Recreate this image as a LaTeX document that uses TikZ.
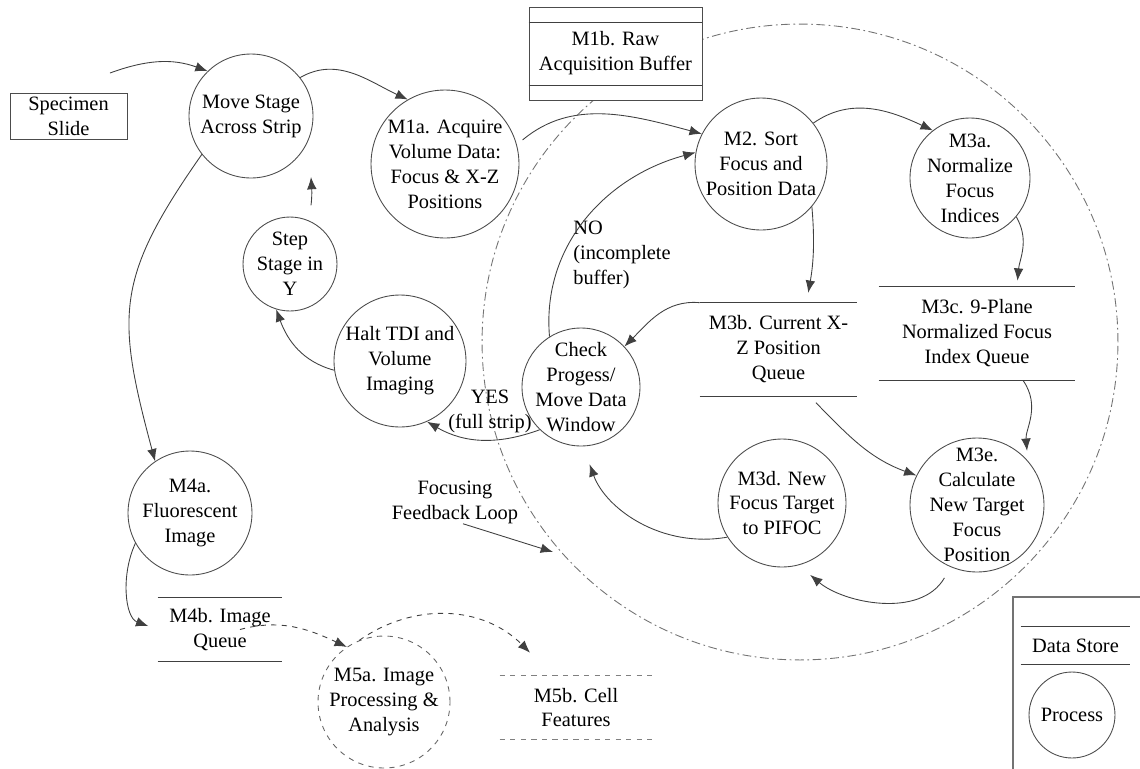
\documentclass[tikz,border=0pt]{standalone}
\usepackage{fontspec}
\setmainfont{Liberation Serif}
\usepackage{tikz}
\usetikzlibrary{arrows.meta}
\tikzset{
proc/.style={circle, draw=black!70, line width=0.5pt, inner sep=0pt, minimum size=#1},
box/.style={draw=black!70, line width=0.5pt, align=center, inner sep=0pt},
store/.style 2 args={inner sep=0pt, align=center, minimum width=#1, minimum height=#2},
storeline/.style={draw=black!75, line width=0.8pt},
txt/.style={align=center, inner sep=0pt},
flow/.style={draw=black!75, line width=0.5pt, -{Latex[length=7pt,width=5.5pt]}},
loopline/.style={draw=black!55, line width=0.5pt, dash pattern=on 5pt off 2pt on 1pt off 2pt}
}

\begin{document}
\begin{tikzpicture}[x=0.02cm, y=-0.02cm,
every node/.style={font=\fontsize{11.6}{14.2}\selectfont},
every label/.style={align=center}]
\useasboundingbox (0,0) rectangle (1140,768);
\clip (0,0) rectangle (1140,768);

%focusing feedback loop (drawn first, the buffer box covers it)
\coordinate (lc) at (800,342);
\draw[loopline] (lc) circle [radius=6.36cm];

%processes
\node[proc=2.48cm, label={center:Move Stage\\Across Strip}] (mv) at (251,116) {};
\node[proc=2.96cm, label={center:M1a. Acquire\\Volume Data:\\Focus \& X-Z\\Positions}] (m1a) at (445,164) {};
\node[proc=2.64cm, label={center:M2. Sort\\Focus and\\Position Data}] (m2) at (761,164) {};
\node[proc=2.4cm, label={center:M3a.\\Normalize\\Focus\\Indices}] (m3a) at (970,178) {};
\node[proc=1.88cm, label={center:Step\\Stage in\\Y}] (step) at (290,264) {};
\node[proc=2.64cm, label={center:Halt TDI and\\Volume\\Imaging}] (halt) at (400,361) {};
\node[proc=2.36cm, label={center:Check\\Progess/\\Move Data\\Window}] (chk) at (581,387) {};
\node[proc=2.56cm, label={center:M3d. New\\Focus Target\\to PIFOC}] (m3d) at (782,503) {};
\node[proc=2.68cm, label={center:M3e.\\Calculate\\New Target\\Focus\\Position}] (m3e) at (977,505) {};
\node[proc=2.48cm, label={center:M4a.\\Fluorescent\\Image}] (m4a) at (190,513) {};
\node[proc=2.64cm, dashed, draw=black!60, label={center:M5a. Image\\Processing \&\\Analysis}] (m5a) at (384,702) {};

%external entity and buffer
\node[box, minimum width=2.34cm, minimum height=0.92cm] (slide) at (68.5,116) {Specimen\\Slide};
\node[box, fill=white, minimum width=3.46cm, minimum height=1.86cm] (m1b) at (615.5,53.5) {M1b. Raw\\Acquisition Buffer};
\draw[storeline] ([yshift=-0.32cm]m1b.north west) -- ([yshift=-0.32cm]m1b.north east)
	([yshift=0.3cm]m1b.south west) -- ([yshift=0.3cm]m1b.south east);

%data stores
\node[store={3.14cm}{1.86cm}] (m3b) at (778.5,349.5) {M3b. Current X-\\Z Position\\Queue};
\node[store={3.92cm}{1.86cm}] (m3c) at (977,333.5) {M3c. 9-Plane\\Normalized Focus\\Index Queue};
\node[store={2.48cm}{1.26cm}] (m4b) at (220,629.5) {M4b. Image\\Queue};
\node[store={3.04cm}{1.26cm}] (m5b) at (576,707.5) {M5b. Cell\\Features};
\foreach \s in {m3b,m3c,m4b}{
	\draw[storeline] (\s.north west) -- (\s.north east) (\s.south west) -- (\s.south east);
}
\draw[storeline, draw=black!50, line width=0.6pt, dashed] (m5b.north west) -- (m5b.north east) (m5b.south west) -- (m5b.south east);

%labels
\node[txt, align=left, anchor=west] (no) at (573,255) {NO\\(incomplete\\buffer)};
\node[txt] (yes) at (490,411) {YES\\(full strip)};
\node[txt] (fb) at (455,502) {Focusing\\Feedback Loop};

%flows
\coordinate (src) at (110,73);
\coordinate (mvin) at (311,177);
\coordinate (fbin) at (553,552);
\draw[flow] (src) to[out=20,in=160] (mv.134);
\draw[flow] (mv.38) to[out=30,in=155] (m1a.120);
\draw[flow, shorten <=0.15cm] (m1a.15) to[out=40,in=165] (m2.153);
\draw[flow] (chk.122) to[out=95,in=195] (m2.170);
\draw[flow] (m2.38) to[out=35,in=155] (m3a.128);
\draw[flow, shorten >=0.2cm] (m2.-40) to[out=-85,in=80] ([xshift=0.56cm]m3b.north);
\draw[flow, shorten >=0.12cm] (m3a.-40) to[out=-60,in=85] ([xshift=0.8cm]m3c.north);
\draw[flow] (m3b.north west) to[out=175,in=45] (chk.43);
\draw[flow, shorten <=0.18cm] ([xshift=0.62cm]m3b.south) to[out=-45,in=160] (m3e.154);
\draw[flow, shorten >=0.2cm] ([xshift=0.92cm]m3c.south) to[out=-55,in=95] (m3e.41);
\draw[flow, shorten <=0.25cm, shorten >=0.3cm] (m3e.-113) to[out=-120,in=-40] (m3d.-75);
\draw[flow, shorten >=0.38cm] (m3d.-148) to[out=190,in=-70] (chk.-88);
\draw[flow] (chk.-134) to[out=-160,in=-30] (halt.-66);
\draw[flow] (halt.188) to[out=165,in=-70] (step.-107);
\draw[flow, shorten <=0.3cm] (step.68) to[bend right=8] (mvin);
\draw[flow] (mv.-142) to[out=-125,in=105, looseness=1.25] (m4a.124);
\draw[flow, shorten >=0.2cm] (m4a.-151) to[out=-115,in=160] (m4b.west);
\draw[flow, dashed] ([xshift=0.4cm]m4b.center) to[out=15,in=155] (m5a.124);
\draw[flow, dashed] (m5a.112) to[out=35,in=135] ([xshift=-0.92cm,yshift=0.46cm]m5b.north);
\draw[flow] ([xshift=0.16cm]fb.south) -- (fbin);

%legend
\draw[draw=black!55, line width=0.6pt] (1013,780) -- (1013,597) -- (1150,597);
\node[store={2.18cm}{0.74cm}] (ds) at (1075.5,645.5) {Data Store};
\draw[storeline] (ds.north west) -- (ds.north east) (ds.south west) -- (ds.south east);
\node[proc=1.72cm, label={center:Process}] (pr) at (1072,715) {};
\end{tikzpicture}
\end{document}
